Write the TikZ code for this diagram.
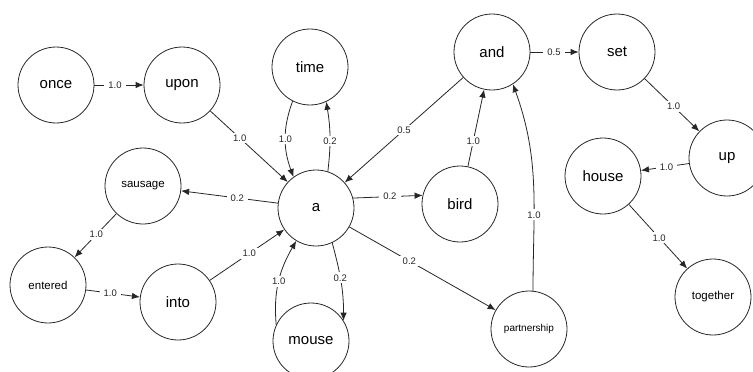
\documentclass[tikz,border=0pt]{standalone}
\usepackage{fontspec}
\setmainfont{Liberation Sans}
\usetikzlibrary{arrows.meta}

\tikzset{
  word/.style={circle, draw=black!85, line width=0.8pt, minimum size=76pt, inner sep=0pt,
               font=\fontsize{15}{16}\selectfont},
  smallword/.style={word, font=\fontsize{11.5}{12}\selectfont},
  tinyword/.style={word, font=\fontsize{10}{11}\selectfont},
  edge/.style={draw=black!85, line width=0.8pt, -{Latex[length=8pt,width=6.5pt]}},
  lbl/.style={fill=white, inner xsep=4pt, inner ysep=2pt, text=black!85,
              font=\fontsize{9.5}{10}\selectfont}
}

\begin{document}
\begin{tikzpicture}[x=1pt, y=-1pt]
  \useasboundingbox (0,0) rectangle (753,372);

  % word nodes
  \node[word]      (once)        at (56,85)   {once};
  \node[word]      (upon)        at (182,85)  {upon};
  \node[word]      (time)        at (310,67)  {time};
  \node[word]      (a)           at (316,208) {a};
  \node[word]      (and)         at (492,52)  {and};
  \node[word]      (set)         at (617,52)  {set};
  \node[word]      (up)          at (727,158) {up};
  \node[word]      (house)       at (603,176) {house};
  \node[smallword] (together)    at (713,297) {together};
  \node[smallword] (sausage)     at (143,186) {sausage};
  \node[word]      (bird)        at (460,204) {bird};
  \node[smallword] (entered)     at (48,285)  {entered};
  \node[word]      (into)        at (178,302) {into};
  \node[word]      (mouse)       at (311,341) {mouse};
  \node[tinyword]  (partnership) at (529,329) {partnership};

  % transitions with probabilities
  \draw[edge] (once) -- node[lbl,pos=.42]{1.0} (upon);
  \draw[edge] (upon) -- node[lbl,pos=.38]{1.0} (a);
  \draw[edge] (time.243) to[out=250,in=110] node[lbl,pos=.5]{1.0} (a.126);
  \draw[edge] (a.72) to[bend right=8] node[lbl,pos=.43]{0.2} (time.295);
  \draw[edge] (and) -- node[lbl,pos=.5]{0.5} (a);
  \draw[edge] (bird) -- node[lbl,pos=.33]{1.0} (and);
  \draw[edge] (partnership.84) to[out=90,in=-70] node[lbl,pos=.35]{1.0} (and.303);
  \draw[edge] (and) -- node[lbl,pos=.49]{0.5} (set);
  \draw[edge] (set) -- node[lbl,pos=.53]{1.0} (up);
  \draw[edge] (up) -- node[lbl,pos=.47]{1.0} (house);
  \draw[edge] (house) -- node[lbl,pos=.52]{1.0} (together);
  \draw[edge] (a) -- node[lbl,pos=.42]{0.2} (sausage);
  \draw[edge] (sausage) -- node[lbl,pos=.48]{1.0} (entered);
  \draw[edge] (entered) -- node[lbl,pos=.45]{1.0} (into);
  \draw[edge] (into) -- node[lbl,pos=.53]{1.0} (a);
  \draw[edge] (mouse.155) to[out=95,in=240] node[lbl,pos=.5]{1.0} (a.239);
  \draw[edge] (a.295) to[out=-75,in=90] node[lbl,pos=.45]{0.2} (mouse.32);
  \draw[edge] (a.15) -- node[lbl,pos=.53]{0.2} (bird.167);
  \draw[edge] (a) -- node[lbl,pos=.41]{0.2} (partnership);
\end{tikzpicture}
\end{document}
